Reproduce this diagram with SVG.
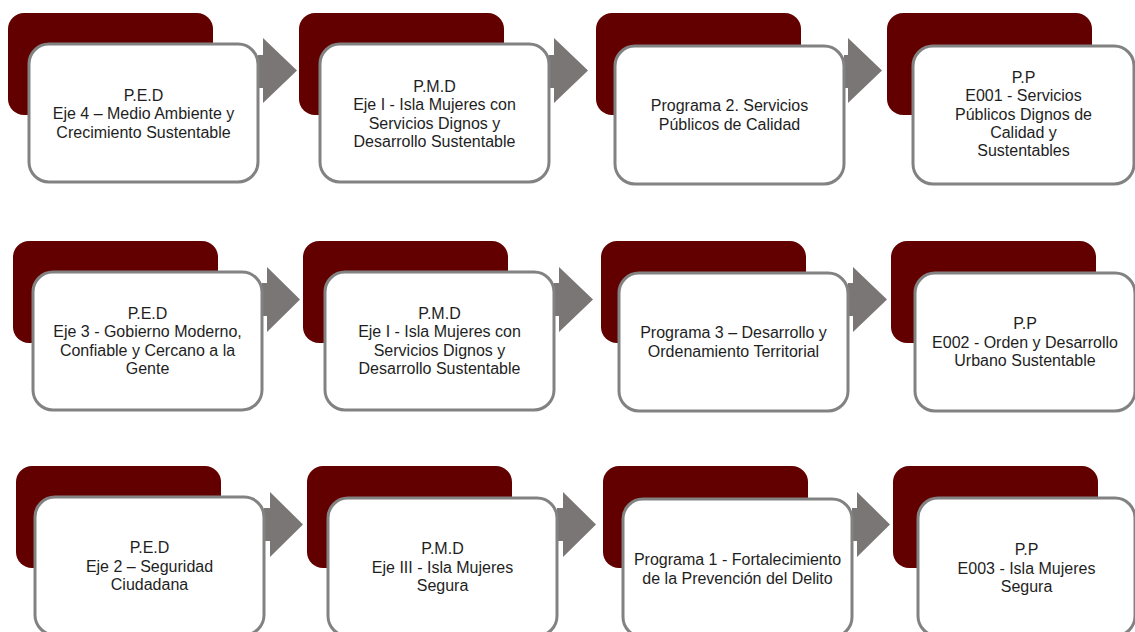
<svg xmlns="http://www.w3.org/2000/svg" width="1135" height="632" viewBox="0 0 1135 632">
<style>
.bg{fill:#620000}
.box{fill:#ffffff;stroke:#828282;stroke-width:3}
.arr{fill:#7a7675}
text{font-family:"Liberation Sans",Arial,sans-serif;font-size:16px;fill:#1e1e1e;text-anchor:middle}
</style>
<rect width="1135" height="632" fill="#ffffff"/>
<g id="connectors">
<path class="arr" d="M258,55H263V38L297,70.5L263,103V88H258Z"/>
<path class="arr" d="M549,55H554V38L588,70.5L554,103V88H549Z"/>
<path class="arr" d="M844,55H848V38L882,70.5L848,103V88H844Z"/>
<path class="arr" d="M262,283H267V267L300,299.5L267,332V316H262Z"/>
<path class="arr" d="M554,283H559V267L593,299.5L559,332V316H554Z"/>
<path class="arr" d="M848,283H853V267L887,299.5L853,332V316H848Z"/>
<path class="arr" d="M264,508H270V492L303,524.5L270,557V541H264Z"/>
<path class="arr" d="M557,508H563V492L596,524.5L563,557V541H557Z"/>
<path class="arr" d="M852,508H857V492L890,524.5L857,557V541H852Z"/>
</g>
<g id="n1">
<rect class="bg" x="8" y="13" width="205" height="102" rx="16"/>
<rect class="box" x="29" y="44" width="229" height="138" rx="20"/>
<text x="143.5" y="101">P.E.D</text>
<text x="143.5" y="119.4">Eje 4 – Medio Ambiente y</text>
<text x="143.5" y="137.8">Crecimiento Sustentable</text>
</g>
<g id="n2">
<rect class="bg" x="299" y="13" width="205" height="102" rx="16"/>
<rect class="box" x="320" y="44" width="229" height="138" rx="20"/>
<text x="434.5" y="92">P.M.D</text>
<text x="434.5" y="110.4">Eje I - Isla Mujeres con</text>
<text x="434.5" y="128.8">Servicios Dignos y</text>
<text x="434.5" y="147.2">Desarrollo Sustentable</text>
</g>
<g id="n3">
<rect class="bg" x="596" y="13" width="205" height="102" rx="16"/>
<rect class="box" x="615" y="46" width="229" height="138" rx="20"/>
<text x="729.5" y="111.3">Programa 2. Servicios</text>
<text x="729.5" y="129.7">Públicos de Calidad</text>
</g>
<g id="n4">
<rect class="bg" x="887" y="13" width="205" height="102" rx="16"/>
<rect class="box" x="913" y="46" width="221" height="138" rx="20"/>
<text x="1023.5" y="82.7">P.P</text>
<text x="1023.5" y="101.1">E001 - Servicios</text>
<text x="1023.5" y="119.5">Públicos Dignos de</text>
<text x="1023.5" y="137.9">Calidad y</text>
<text x="1023.5" y="156.3">Sustentables</text>
</g>
<g id="n5">
<rect class="bg" x="13" y="241" width="205" height="102" rx="16"/>
<rect class="box" x="33" y="272" width="229" height="138" rx="20"/>
<text x="147.5" y="318.9">P.E.D</text>
<text x="147.5" y="337.3">Eje 3 - Gobierno Moderno,</text>
<text x="147.5" y="355.7">Confiable y Cercano a la</text>
<text x="147.5" y="374.1">Gente</text>
</g>
<g id="n6">
<rect class="bg" x="303" y="241" width="205" height="102" rx="16"/>
<rect class="box" x="325" y="272" width="229" height="138" rx="20"/>
<text x="439.5" y="318.9">P.M.D</text>
<text x="439.5" y="337.3">Eje I - Isla Mujeres con</text>
<text x="439.5" y="355.7">Servicios Dignos y</text>
<text x="439.5" y="374.1">Desarrollo Sustentable</text>
</g>
<g id="n7">
<rect class="bg" x="601" y="241" width="205" height="102" rx="16"/>
<rect class="box" x="619" y="273" width="229" height="138" rx="20"/>
<text x="733.5" y="338.3">Programa 3 – Desarrollo y</text>
<text x="733.5" y="356.7">Ordenamiento Territorial</text>
</g>
<g id="n8">
<rect class="bg" x="891" y="241" width="205" height="102" rx="16"/>
<rect class="box" x="915" y="273" width="220" height="138" rx="20"/>
<text x="1025" y="329.1">P.P</text>
<text x="1025" y="347.5">E002 - Orden y Desarrollo</text>
<text x="1025" y="365.9">Urbano Sustentable</text>
</g>
<g id="n9">
<rect class="bg" x="16" y="466" width="205" height="102" rx="16"/>
<rect class="box" x="35" y="497" width="229" height="138" rx="20"/>
<text x="149.5" y="553.1">P.E.D</text>
<text x="149.5" y="571.5">Eje 2 – Seguridad</text>
<text x="149.5" y="589.9">Ciudadana</text>
</g>
<g id="n10">
<rect class="bg" x="307" y="466" width="205" height="102" rx="16"/>
<rect class="box" x="328" y="498" width="229" height="138" rx="20"/>
<text x="442.5" y="554.1">P.M.D</text>
<text x="442.5" y="572.5">Eje III - Isla Mujeres</text>
<text x="442.5" y="590.9">Segura</text>
</g>
<g id="n11">
<rect class="bg" x="603" y="466" width="205" height="102" rx="16"/>
<rect class="box" x="623" y="499" width="229" height="138" rx="20"/>
<text x="737.5" y="565.3">Programa 1 - Fortalecimiento</text>
<text x="737.5" y="583.7">de la Prevención del Delito</text>
</g>
<g id="n12">
<rect class="bg" x="893" y="466" width="205" height="102" rx="16"/>
<rect class="box" x="918" y="498" width="217" height="138" rx="20"/>
<text x="1026.5" y="555.1">P.P</text>
<text x="1026.5" y="573.5">E003 - Isla Mujeres</text>
<text x="1026.5" y="591.9">Segura</text>
</g>
</svg>
